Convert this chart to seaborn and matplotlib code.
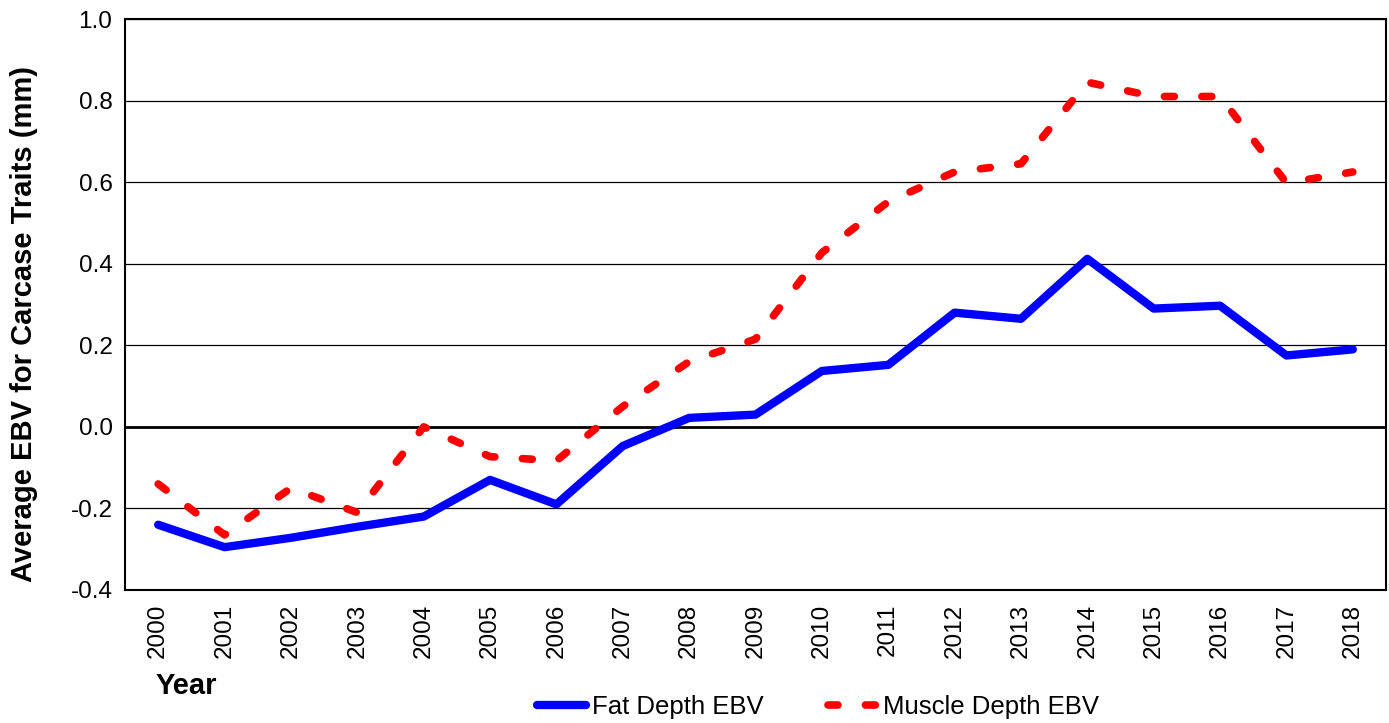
import pandas as pd
import matplotlib
matplotlib.use("Agg")
import matplotlib.pyplot as plt
import seaborn as sns

# data
years = list(range(2000, 2019))
fat_depth = [-0.24, -0.295, -0.272, -0.245, -0.22, -0.13, -0.19, -0.047, 0.022, 0.03,
             0.137, 0.152, 0.28, 0.265, 0.412, 0.29, 0.297, 0.175, 0.19]
muscle_depth = [-0.14, -0.265, -0.15, -0.21, 0.0, -0.073, -0.083, 0.05, 0.16, 0.215,
                0.427, 0.552, 0.625, 0.645, 0.845, 0.81, 0.81, 0.598, 0.625]
y_ticks = [-0.4, -0.2, 0.0, 0.2, 0.4, 0.6, 0.8, 1.0]

df = pd.DataFrame({"Year": years, "Fat Depth EBV": fat_depth, "Muscle Depth EBV": muscle_depth})

sns.set_style("white")
plt.rcParams["font.family"] = ["Liberation Sans", "DejaVu Sans"]
plt.rcParams["text.color"] = "black"
plt.rcParams["xtick.color"] = "black"
plt.rcParams["ytick.color"] = "black"
plt.rcParams["axes.labelcolor"] = "black"

fig = plt.figure(figsize=(13.89, 7.23), dpi=100)
ax = fig.add_axes([125 / 1389, 1 - 590 / 723, (1386 - 125) / 1389, (590 - 19) / 723])

for yt in y_ticks:
    ax.axhline(yt, color="black", lw=2.0 if yt == 0 else 0.9, zorder=1)

sns.lineplot(data=df, x="Year", y="Fat Depth EBV", ax=ax, color="#0000ff", lw=6,
             label="Fat Depth EBV", zorder=3)
sns.lineplot(data=df, x="Year", y="Muscle Depth EBV", ax=ax, color="#ff0000", lw=5.5,
             label="Muscle Depth EBV", zorder=3)
muscle_dashes = [1.3, 3.6]
ax.lines[-1].set_dashes(muscle_dashes)
ax.lines[-1].set_dash_capstyle("round")

ax.set_xlim(1999.5, 2018.5)
ax.set_ylim(-0.4, 1.0)
ax.set_xticks(years)
ax.set_xticklabels([str(y) for y in years], rotation=90, fontsize=17.5)
ax.set_yticks(y_ticks)
ax.set_yticklabels([f"{v:.1f}" for v in y_ticks], fontsize=17.5)
ax.tick_params(axis="x", length=0, pad=10, colors="black")
ax.tick_params(axis="y", length=0, pad=9, colors="black")

for s in ax.spines.values():
    s.set_visible(True)
    s.set_color("black")
    s.set_linewidth(1.5)

ax.set_xlabel("")
ax.set_ylabel("Average EBV for Carcase Traits (mm)", fontsize=21, fontweight="bold", color="black")
ax.yaxis.set_label_coords((38 - 125) / 1261, 0.466)
fig.text(156 / 1389, 1 - 686 / 723, "Year", fontsize=21, fontweight="bold", va="center",
         ha="left", color="black")

leg = ax.legend(loc="center", bbox_to_anchor=(818 / 1389, 1 - 707 / 723),
                bbox_transform=fig.transFigure, ncol=2, frameon=False, fontsize=18.5,
                handlelength=1.9, handletextpad=0.25, columnspacing=2.5,
                borderpad=0, borderaxespad=0, labelcolor="black")
leg.get_lines()[1].set_dashes(muscle_dashes)
leg.get_lines()[1].set_dash_capstyle("round")

fig.savefig("out.png", dpi=100)
